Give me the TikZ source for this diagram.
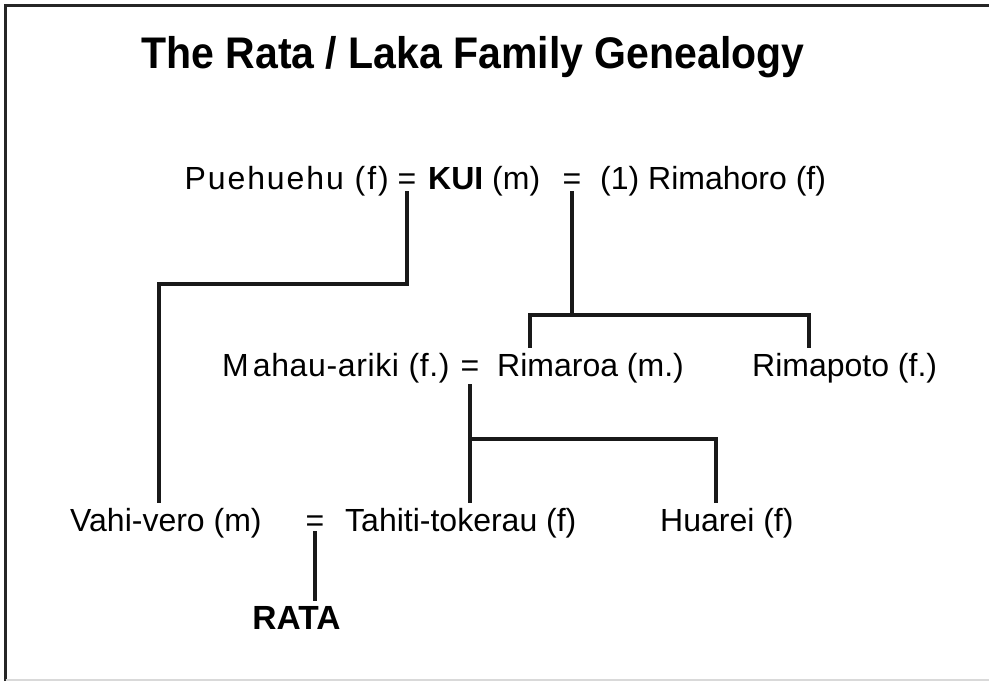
\documentclass[tikz,border=0pt]{standalone}
\usepackage{fontspec}
\setmainfont{Liberation Sans}
\begin{document}
\begin{tikzpicture}[x=1pt,y=-1pt,
    kin/.style={line width=3.2pt, black!90},
    person/.style={font=\fontsize{32}{38}\selectfont, inner sep=5pt, anchor=base west},
    wed/.style={font=\fontsize{32}{38}\selectfont, inner sep=0pt, anchor=base},
    heading/.style={font=\fontsize{41}{48}\selectfont\bfseries, anchor=base}]
        \useasboundingbox (0,0) rectangle (989,681);
        % Frame
        \draw[line width=3pt, black!85] (5.5,681) -- (5.5,5.5) -- (989,5.5);
        \draw[line width=2pt, black!15] (5.5,680) -- (989,680);
        \node[heading] (title) at (473,68) {\scalebox{1}[1.08]{The Rata / Laka Family Genealogy}};

        % First generation
        \node[person, anchor=base east] (pueh) at (394,189) {\addfontfeature{LetterSpace=6}Puehuehu (f)};
        \node[wed] (eqA) at (407,189) {=};
        \node[person] (kui) at (423,189) {\textbf{KUI} (m)};
        \node[wed] (eqB) at (572,189) {=};
        \node[person] (rimahoro) at (595,189) {(1) Rimahoro (f)};

        % Second generation
        \node[person] (mahau) at (217,376) {\addfontfeature{LetterSpace=2}M\hspace{4pt}ahau-ariki (f.)};
        \node[wed] (eqC) at (470,376) {=};
        \node[person] (rimaroa) at (492,376) {Rimaroa (m.)};
        \node[person] (rimapoto) at (747,376) {Rimapoto (f.)};

        % Third generation
        \node[person] (vahi) at (65,531) {Vahi-vero (m)};
        \node[wed] (eqD) at (315,531) {=};
        \node[person] (tahiti) at (340,531) {Tahiti-tokerau (f)};
        \node[person] (huarei) at (655,531) {Huarei (f)};
        \node[person, anchor=base, font=\fontsize{33.5}{40}\selectfont\bfseries] (rata) at (296.5,629) {RATA};

        % Junctions
        \coordinate (jA) at (159,284);
        \coordinate (bL) at (530,315);
        \coordinate (bR) at (809,315);
        \coordinate (cR) at (716,439);

        % Lines of descent
        \draw[kin] ([yshift=-2pt]eqA.south) |- (jA) -- (jA |- vahi.north);
        \draw[kin] ([yshift=-2pt]eqB.south) -- (eqB.south |- bL);
        \draw[kin] (bL |- rimaroa.north) -- (bL) -- (bR) -- (bR |- rimapoto.north);
        \draw[kin] ([yshift=-8pt]eqC.south) -- (eqC.south |- tahiti.north);
        \draw[kin] (eqC.south |- cR) -- (cR) -- (cR |- huarei.north);
        \draw[kin] (eqD.south) -- (eqD.south |- rata.north);
    \end{tikzpicture}
\end{document}
